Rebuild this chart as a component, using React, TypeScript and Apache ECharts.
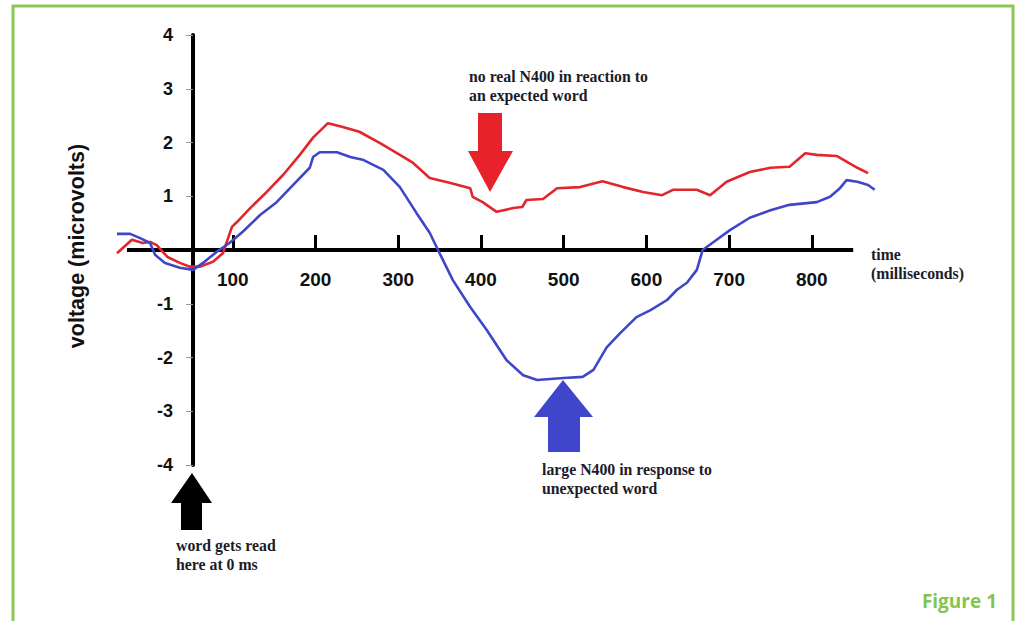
import React, { useEffect, useRef } from "react";
import * as echarts from "echarts";

// Expected word (red) ERP trace
const redTimes = [-40, -22, -9, 0, 8, 21, 36, 48, 60, 76, 88, 99, 105, 121, 141, 161, 181, 197, 215, 233, 253, 278, 302, 318, 338, 362, 387, 390, 402, 419, 439, 450, 455, 475, 492, 520, 547, 572, 596, 619, 632, 661, 677, 697, 725, 750, 773, 792, 806, 830, 855, 868];
const redValues = [-0.06, 0.19, 0.13, 0.15, 0.09, -0.13, -0.24, -0.31, -0.31, -0.22, -0.06, 0.43, 0.52, 0.78, 1.08, 1.4, 1.77, 2.09, 2.36, 2.29, 2.2, 1.99, 1.77, 1.62, 1.34, 1.25, 1.15, 0.99, 0.89, 0.71, 0.78, 0.8, 0.93, 0.95, 1.15, 1.17, 1.28, 1.17, 1.08, 1.02, 1.12, 1.12, 1.02, 1.27, 1.45, 1.53, 1.55, 1.8, 1.77, 1.75, 1.53, 1.43];

// Unexpected word (blue) ERP trace
const blueTimes = [-40, -24, -12, 0, 6, 18, 36, 52, 64, 80, 96, 112, 133, 153, 173, 193, 197, 205, 226, 242, 257, 282, 302, 322, 338, 350, 366, 387, 407, 431, 451, 468, 500, 523, 536, 552, 568, 588, 605, 625, 637, 649, 661, 668, 685, 701, 725, 750, 773, 806, 822, 834, 842, 855, 868, 876];
const blueValues = [0.3, 0.3, 0.22, 0.13, -0.09, -0.24, -0.33, -0.37, -0.24, -0.04, 0.13, 0.34, 0.65, 0.89, 1.21, 1.53, 1.73, 1.82, 1.82, 1.73, 1.68, 1.49, 1.17, 0.69, 0.32, -0.06, -0.56, -1.06, -1.49, -2.05, -2.33, -2.42, -2.38, -2.36, -2.23, -1.81, -1.55, -1.25, -1.12, -0.93, -0.74, -0.61, -0.37, 0.0, 0.19, 0.37, 0.6, 0.74, 0.84, 0.89, 0.99, 1.15, 1.3, 1.27, 1.21, 1.12];

const xTickValues = [100, 200, 300, 400, 500, 600, 700, 800];
const yTickValues = [-4, -3, -2, -1, 0, 1, 2, 3, 4];

const X_MIN = -40;
const X_MAX = 880;
const X_LINE_START = -28;
const X_LINE_END = 850;

const zip = (xs: number[], ys: number[]) => xs.map((x, i) => [x, ys[i]]);

const serifBold = { fontFamily: "Liberation Serif", fontWeight: "bold", fontSize: 15.8, fill: "#1c1c28" };

export default function App() {
  const ref = useRef<HTMLDivElement>(null);

  useEffect(() => {
    if (!ref.current) return;
    const chart = echarts.init(ref.current, null, { renderer: "svg" });
    const text = (t: string, x: number, y: number, extra: any = {}) => ({
      type: "text",
      x,
      y,
      style: { text: t, textVerticalAlign: "middle", ...serifBold, ...extra },
    });
    chart.setOption({
      animation: false,
      backgroundColor: "#ffffff",
      grid: { left: 117, width: 761, top: 35, height: 430, containLabel: false },
      xAxis: {
        type: "value",
        min: X_MIN,
        max: X_MAX,
        position: "bottom",
        offset: -215,
        axisLine: { show: false, onZero: false },
        axisTick: {
          show: true,
          inside: true,
          length: 15,
          customValues: xTickValues,
          lineStyle: { color: "#000", width: 3 },
        },
        axisLabel: {
          show: true,
          customValues: xTickValues,
          margin: 20,
          color: "#111",
          fontFamily: "Liberation Sans",
          fontWeight: "bold",
          fontSize: 19,
        },
        splitLine: { show: false },
      },
      yAxis: {
        type: "value",
        min: -4,
        max: 4,
        position: "left",
        offset: -76,
        axisLine: { show: true, onZero: false, lineStyle: { color: "#000", width: 4 } },
        axisTick: { show: true, length: 7, customValues: yTickValues, lineStyle: { color: "#999", width: 1 } },
        axisLabel: {
          customValues: yTickValues,
          formatter: (v: number) => (v === 0 ? "" : String(v)),
          margin: 20,
          color: "#111",
          fontFamily: "Liberation Sans",
          fontWeight: "bold",
          fontSize: 18,
        },
        splitLine: { show: false },
      },
      series: [
        {
          type: "line",
          name: "expected",
          data: zip(redTimes, redValues),
          showSymbol: false,
          symbol: "none",
          z: 3,
          lineStyle: { color: "#e2262c", width: 2.6 },
          markLine: {
            silent: true,
            z: 1,
            symbol: "none",
            label: { show: false },
            lineStyle: { color: "#000", width: 4, type: "solid" },
            data: [[{ coord: [X_LINE_START, 0] }, { coord: [X_LINE_END, 0] }]],
          },
        },
        {
          type: "line",
          name: "unexpected",
          data: zip(blueTimes, blueValues),
          showSymbol: false,
          symbol: "none",
          z: 3,
          lineStyle: { color: "#4046c8", width: 2.6 },
        },
      ],
      graphic: [
        {
          type: "rect",
          shape: { x: 13, y: 6, width: 1000, height: 660 },
          style: { fill: "none", stroke: "#8cc654", lineWidth: 3 },
          silent: true,
        },
        {
          type: "text",
          x: 77,
          y: 246,
          rotation: Math.PI / 2,
          style: {
            text: "voltage (microvolts)",
            textAlign: "center",
            textVerticalAlign: "middle",
            fontFamily: "Liberation Sans",
            fontWeight: "bold",
            fontSize: 21.5,
            fill: "#111",
          },
        },
        {
          type: "polygon",
          shape: { points: [[478, 113], [502, 113], [502, 151], [513, 151], [490, 192], [468, 151], [478, 151]] },
          style: { fill: "#e8222a" },
        },
        {
          type: "polygon",
          shape: { points: [[563, 380], [593, 417], [580, 417], [580, 452], [548, 452], [548, 417], [534, 417]] },
          style: { fill: "#3f46cc" },
        },
        {
          type: "polygon",
          shape: { points: [[192, 473], [212, 503], [202, 503], [202, 530], [181, 530], [181, 503], [171, 503]] },
          style: { fill: "#000" },
        },
        text("no real N400 in reaction to", 469, 76),
        text("an expected word", 469, 95),
        text("large N400 in response to", 542, 469),
        text("unexpected word", 542, 488),
        text("word gets read", 176, 545),
        text("here at 0 ms", 176, 564),
        text("time", 871, 254),
        text("(milliseconds)", 871, 273),
        {
          type: "text",
          x: 997,
          y: 601,
          style: {
            text: "Figure 1",
            textAlign: "right",
            textVerticalAlign: "middle",
            fontFamily: "Open Sans",
            fontWeight: "bold",
            fontSize: 19,
            fill: "#84c44f",
          },
        },
      ],
    });
    return () => chart.dispose();
  }, []);

  return (
    <div
      ref={ref}
      style={{ position: "fixed", left: 0, top: 0, width: 1019, height: 621, background: "#fff" }}
    />
  );
}
